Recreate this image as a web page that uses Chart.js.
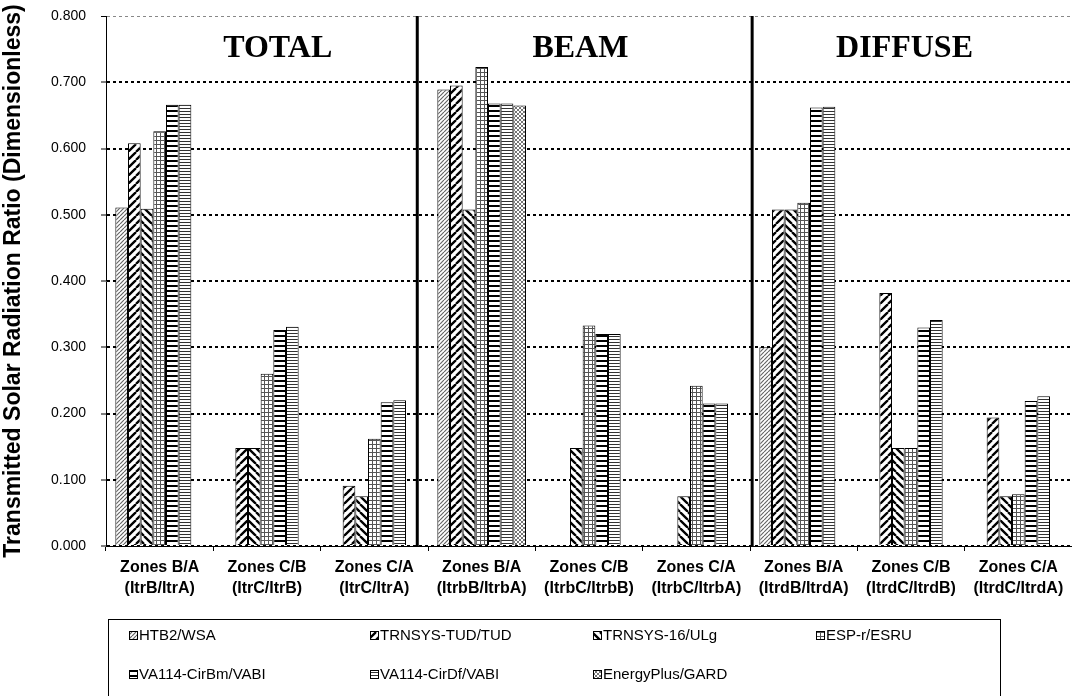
<!DOCTYPE html>
<html>
<head>
<meta charset="utf-8">
<script src="https://cdn.jsdelivr.net/npm/chart.js@4.4.1/dist/chart.umd.min.js"></script>
<style>
  html, body { margin: 0; padding: 0; background: #fff; }
  #wrap { width: 1072px; height: 696px; }
</style>
</head>
<body>
<div id="wrap"><canvas id="chart" width="1072" height="696"></canvas></div>
<script>
// categories (two-line tick labels)
const categories = [
    ['Zones B/A', '(ItrB/ItrA)'],
    ['Zones C/B', '(ItrC/ItrB)'],
    ['Zones C/A', '(ItrC/ItrA)'],
    ['Zones B/A', '(ItrbB/ItrbA)'],
    ['Zones C/B', '(ItrbC/ItrbB)'],
    ['Zones C/A', '(ItrbC/ItrbA)'],
    ['Zones B/A', '(ItrdB/ItrdA)'],
    ['Zones C/B', '(ItrdC/ItrdB)'],
    ['Zones C/A', '(ItrdC/ItrdA)']
];

const seriesNames = [
    'HTB2/WSA', 'TRNSYS-TUD/TUD', 'TRNSYS-16/ULg', 'ESP-r/ESRU',
    'VA114-CirBm/VABI', 'VA114-CirDf/VABI', 'EnergyPlus/GARD'
];

// values
const htb2  = [0.511, null,  null,  0.689, null,  null,  0.300, null,  null];
const tud   = [0.608, 0.148, 0.091, 0.695, null,  null,  0.508, 0.382, 0.194];
const t16   = [0.509, 0.148, 0.075, 0.508, 0.148, 0.075, 0.508, 0.148, 0.075];
const espr  = [0.626, 0.260, 0.162, 0.723, 0.333, 0.242, 0.518, 0.148, 0.078];
const cirbm = [0.666, 0.326, 0.217, 0.668, 0.320, 0.215, 0.662, 0.330, 0.219];
const cirdf = [0.666, 0.331, 0.220, 0.668, 0.320, 0.215, 0.663, 0.341, 0.226];
const eplus = [null,  null,  null,  0.665, null,  null,  null,  null,  null];

const yMin = 0;
const yMax = 0.8;
const yStep = 0.1;

const sectionTitles = ['TOTAL', 'BEAM', 'DIFFUSE'];

// ---- fill patterns ----
const ctx = document.getElementById('chart').getContext('2d');

function makePattern(size, draw) {
    const c = document.createElement('canvas');
    c.width = size; c.height = size;
    const g = c.getContext('2d');
    g.fillStyle = '#fff';
    g.fillRect(0, 0, size, size);
    draw(g, size);
    return ctx.createPattern(c, 'repeat');
}

function slashes(color, width) {
    return (g, s) => {
        g.strokeStyle = color; g.lineWidth = width;
        g.beginPath();
        for (const c of [0, s, 2 * s]) { g.moveTo(c, 0); g.lineTo(c - s, s); }
        g.stroke();
    };
}

function backslashes(color, width) {
    return (g, s) => {
        g.strokeStyle = color; g.lineWidth = width;
        g.beginPath();
        for (const c of [-s, 0, s]) { g.moveTo(c, 0); g.lineTo(c + s, s); }
        g.stroke();
    };
}

const patterns = [
    makePattern(4, slashes('#666', 1.2)),
    makePattern(8, slashes('#000', 2.3)),
    makePattern(8, backslashes('#000', 2.3)),
    makePattern(4, (g, s) => {
        g.fillStyle = '#555';
        g.fillRect(0, 0, 1, s);
        g.fillRect(0, 0, s, 1);
    }),
    makePattern(5, (g, s) => {
        g.fillStyle = '#000';
        g.fillRect(0, 0, s, 2);
    }),
    makePattern(3, (g, s) => {
        g.fillStyle = '#333';
        g.fillRect(0, 0, s, 1);
    }),
    makePattern(4, (g, s) => {
        slashes('#666', 0.9)(g, s);
        backslashes('#666', 0.9)(g, s);
    })
];

const seriesValues = [htb2, tud, t16, espr, cirbm, cirdf, eplus];

const datasets = seriesValues.map((vals, i) => ({
    label: seriesNames[i],
    data: vals,
    backgroundColor: patterns[i],
    borderColor: '#000',
    borderWidth: 1,
    categoryPercentage: 0.826,
    barPercentage: 1.0
}));

// section titles and thick dividers
const sectionPlugin = {
    id: 'sections',
    afterDatasetsDraw(chart, args, opts) {
        const c = chart.ctx;
        const xs = chart.scales.x, ys = chart.scales.y;
        const area = chart.chartArea;
        c.save();
        c.strokeStyle = '#000';
        c.lineWidth = 3;
        opts.dividers.forEach(v => {
            const x = xs.getPixelForValue(v);
            c.beginPath();
            c.moveTo(x, area.top);
            c.lineTo(x, area.bottom);
            c.stroke();
        });
        c.fillStyle = '#000';
        c.font = 'bold 32px "Liberation Serif", "Times New Roman", serif';
        c.textAlign = 'center';
        c.textBaseline = 'alphabetic';
        sectionTitles.forEach((t, i) => {
            c.fillText(t, xs.getPixelForValue(opts.centers[i]), ys.getPixelForValue(opts.titleY));
        });
        c.restore();
    }
};

// boxed legend below the axis
const boxLegend = {
    id: 'boxLegend',
    afterDraw(chart, args, opts) {
        const c = chart.ctx;
        c.save();
        c.strokeStyle = '#000';
        c.lineWidth = 1;
        c.strokeRect(opts.left + 0.5, opts.top + 0.5, opts.right - opts.left, 200);
        c.font = '15px "Liberation Sans", Arial, sans-serif';
        c.textBaseline = 'middle';
        c.textAlign = 'left';
        chart.data.datasets.forEach((ds, i) => {
            const x = opts.cols[i % 4];
            const y = opts.rows[Math.floor(i / 4)];
            c.fillStyle = ds.backgroundColor;
            c.fillRect(x, y - 4, 8, 9);
            c.strokeRect(x + 0.5, y - 3.5, 8, 8);
            c.fillStyle = '#000';
            c.fillText(ds.label, x + 10, y + 1);
        });
        c.restore();
    }
};

new Chart(ctx, {
    type: 'bar',
    data: {
        labels: categories,
        datasets: datasets
    },
    options: {
        responsive: false,
        animation: false,
        devicePixelRatio: 1,
        layout: { padding: { top: 16, right: 0, bottom: 0, left: 0 } },
        plugins: {
            legend: { display: false },
            tooltip: { enabled: false },
            sections: { dividers: [2.4, 5.52], centers: [1.10, 3.92, 6.94], titleY: 0.738 },
            boxLegend: { left: 108, right: 1000, top: 619, cols: [129, 370, 593, 816], rows: [635, 674] }
        },
        scales: {
            x: {
                afterFit: s => { s.height = 150; },
                grid: {
                    display: true,
                    drawOnChartArea: false,
                    drawTicks: true,
                    tickLength: 5,
                    tickColor: '#000',
                    offset: true
                },
                border: { display: true, color: '#000', width: 1 },
                ticks: {
                    color: '#000',
                    autoSkip: false,
                    maxRotation: 0,
                    padding: 6,
                    font: { family: '"Liberation Sans", Arial, sans-serif', size: 16, weight: 'bold', lineHeight: 1.3 }
                }
            },
            y: {
                min: yMin,
                max: yMax,
                // fixed axis width; drop the label padding that would push the plot top down
                afterFit: s => { s.width = 106; s.paddingTop = 8; s.paddingBottom = 8; },
                grid: {
                    color: c => (c.tick && c.tick.value >= yMax - 1e-9) ? '#888' : '#000',
                    lineWidth: c => (c.tick && c.tick.value >= yMax - 1e-9) ? 1 : 2,
                    drawTicks: true,
                    tickLength: 5,
                    tickColor: '#000',
                    tickWidth: 1,
                    tickBorderDash: []
                },
                // in Chart.js v4 border.dash dashes the grid lines; the axis line stays solid
                border: { display: true, color: '#000', width: 1, dash: [3, 3] },
                ticks: {
                    stepSize: yStep,
                    color: '#000',
                    padding: 15,
                    font: { family: '"Liberation Sans", Arial, sans-serif', size: 14 },
                    callback: v => Number(v).toFixed(3)
                },
                title: {
                    display: true,
                    text: 'Transmitted Solar Radiation Ratio (Dimensionless)',
                    color: '#000',
                    padding: 0,
                    font: { family: '"Liberation Sans", Arial, sans-serif', size: 23, weight: 'bold' }
                }
            }
        }
    },
    plugins: [sectionPlugin, boxLegend]
});
</script>
</body>
</html>
